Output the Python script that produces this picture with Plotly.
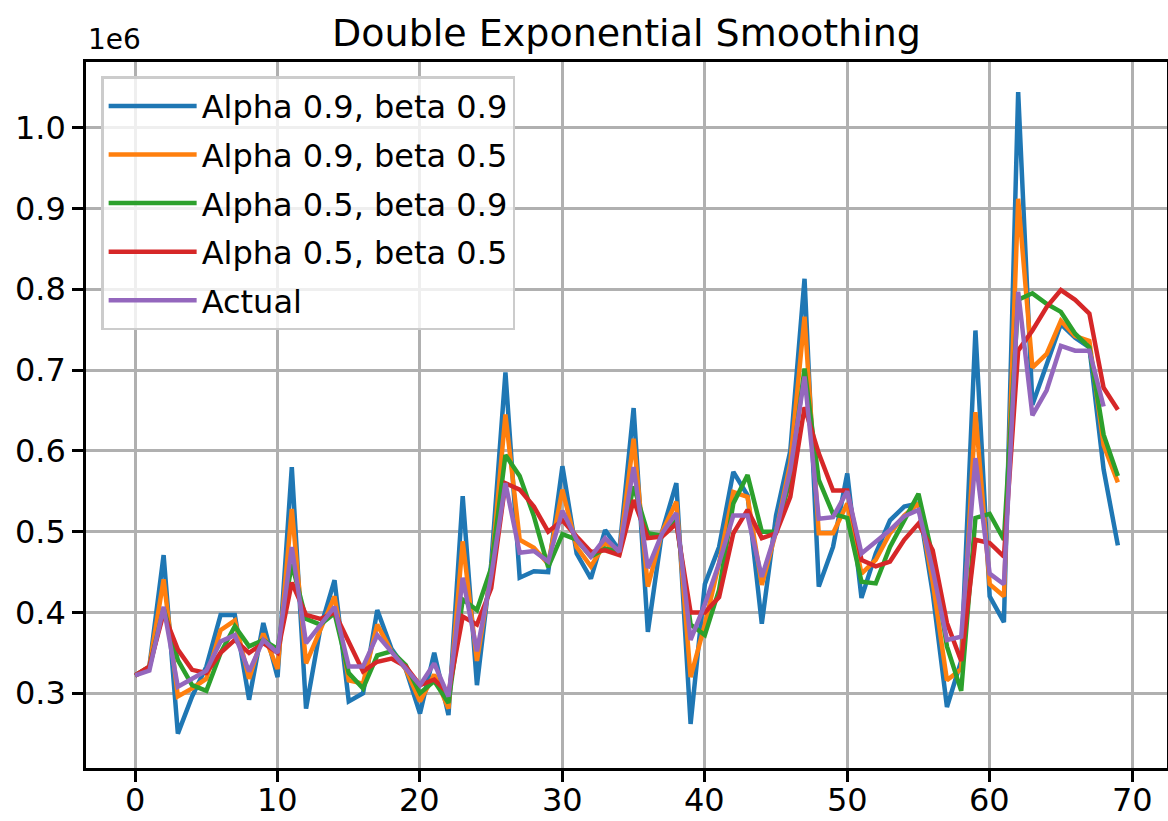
import plotly.graph_objects as go

# values in millions (axis offset 1e6)
actual = [0.322, 0.328, 0.407, 0.308, 0.318, 0.328, 0.364, 0.372, 0.327, 0.366,
          0.35, 0.481, 0.362, 0.385, 0.407, 0.333, 0.333, 0.372, 0.352, 0.33,
          0.31, 0.337, 0.296, 0.443, 0.352, 0.445, 0.56, 0.474, 0.476, 0.463,
          0.526, 0.49, 0.469, 0.492, 0.475, 0.58, 0.455, 0.498, 0.523, 0.366,
          0.41, 0.461, 0.52, 0.52, 0.444, 0.50, 0.576, 0.692, 0.516, 0.518,
          0.55, 0.473, 0.488, 0.502, 0.519, 0.527, 0.453, 0.366, 0.37, 0.591,
          0.448, 0.435, 0.797, 0.644, 0.675, 0.73, 0.724, 0.724, 0.655]

a09_b09 = [0.322, 0.333, 0.471, 0.25, 0.296, 0.333, 0.397, 0.397, 0.292, 0.387,
           0.32, 0.58, 0.281, 0.38, 0.44, 0.29, 0.30, 0.403, 0.355, 0.33,
           0.275, 0.35, 0.273, 0.544, 0.31, 0.46, 0.697, 0.443, 0.451, 0.45,
           0.581, 0.473, 0.442, 0.502, 0.477, 0.653, 0.376, 0.50, 0.56, 0.262,
           0.435, 0.481, 0.574, 0.545, 0.386, 0.52, 0.60, 0.813, 0.432, 0.481,
           0.572, 0.418, 0.473, 0.514, 0.531, 0.535, 0.424, 0.283, 0.34, 0.749,
           0.42, 0.388, 1.044, 0.657, 0.707, 0.757, 0.74, 0.728, 0.577, 0.483]

a09_b05 = [0.322, 0.333, 0.441, 0.296, 0.306, 0.318, 0.378, 0.39, 0.318, 0.374,
           0.33, 0.528, 0.337, 0.38, 0.42, 0.316, 0.312, 0.385, 0.352, 0.33,
           0.29, 0.323, 0.281, 0.488, 0.34, 0.45, 0.645, 0.49, 0.48, 0.46,
           0.552, 0.481, 0.457, 0.486, 0.475, 0.615, 0.432, 0.50, 0.537, 0.32,
           0.385, 0.461, 0.549, 0.543, 0.434, 0.50, 0.585, 0.766, 0.498, 0.498,
           0.535, 0.448, 0.465, 0.498, 0.52, 0.535, 0.438, 0.316, 0.33, 0.648,
           0.435, 0.42, 0.912, 0.703, 0.72, 0.761, 0.742, 0.736, 0.607, 0.561]

a05_b09 = [0.322, 0.332, 0.405, 0.341, 0.31, 0.303, 0.35, 0.383, 0.358, 0.366,
           0.355, 0.46, 0.392, 0.385, 0.399, 0.325, 0.306, 0.347, 0.352, 0.335,
           0.30, 0.315, 0.288, 0.416, 0.403, 0.455, 0.595, 0.569, 0.519, 0.456,
           0.497, 0.49, 0.469, 0.479, 0.475, 0.556, 0.498, 0.495, 0.514, 0.385,
           0.372, 0.428, 0.535, 0.57, 0.50, 0.50, 0.565, 0.702, 0.564, 0.522,
           0.517, 0.438, 0.436, 0.481, 0.514, 0.547, 0.469, 0.358, 0.303, 0.517,
           0.522, 0.49, 0.787, 0.795, 0.782, 0.772, 0.745, 0.728, 0.62, 0.569]

a05_b05 = [0.322, 0.333, 0.399, 0.354, 0.329, 0.325, 0.35, 0.366, 0.35, 0.362,
           0.35, 0.437, 0.397, 0.392, 0.40, 0.362, 0.327, 0.339, 0.343, 0.333,
           0.31, 0.317, 0.30, 0.395, 0.385, 0.43, 0.56, 0.552, 0.531, 0.50,
           0.514, 0.494, 0.475, 0.477, 0.471, 0.539, 0.492, 0.494, 0.51, 0.40,
           0.40, 0.419, 0.498, 0.527, 0.492, 0.498, 0.543, 0.654, 0.597, 0.551,
           0.551, 0.465, 0.457, 0.463, 0.49, 0.51, 0.477, 0.387, 0.34, 0.49,
           0.486, 0.469, 0.724, 0.749, 0.778, 0.799, 0.787, 0.77, 0.678, 0.651]

SCALE = 1e6
names = ["Alpha 0.9, beta 0.9", "Alpha 0.9, beta 0.5",
         "Alpha 0.5, beta 0.9", "Alpha 0.5, beta 0.5", "Actual"]
series = [a09_b09, a09_b05, a05_b09, a05_b05, actual]
colors = ["#1f77b4", "#ff7f0e", "#2ca02c", "#d62728", "#9467bd"]

x_ticks = [0, 10, 20, 30, 40, 50, 60, 70]
y_ticks = [0.3, 0.4, 0.5, 0.6, 0.7, 0.8, 0.9, 1.0]
y_tick_labels = ["0.3", "0.4", "0.5", "0.6", "0.7", "0.8", "0.9", "1.0"]

FONT = "DejaVu Sans"

fig = go.Figure()
for name, vals, col in zip(names, series, colors):
    fig.add_trace(go.Scatter(
        x=list(range(len(vals))), y=[v * SCALE for v in vals],
        mode="lines", name=name, legendgroup=name,
        line=dict(color=col, width=4.5)))

axis_common = dict(showline=True, linecolor="black", linewidth=2.5, mirror=True,
                   showgrid=True, gridcolor="#b0b0b0", gridwidth=2.5,
                   ticks="outside", ticklen=11, tickwidth=2.5, tickcolor="black",
                   zeroline=False, automargin=False,
                   tickfont=dict(family=FONT, size=32, color="black"))

# x tick labels placed as annotations at the tick positions (closer to the axis)
x_label_annotations = [
    dict(text=str(v), x=v, xref="x", y=0, yref="paper", xanchor="center",
         yanchor="middle", yshift=-32, showarrow=False,
         font=dict(family=FONT, size=32, color="black"))
    for v in x_ticks
]

fig.update_layout(
    width=1168, height=821,
    paper_bgcolor="white", plot_bgcolor="white",
    margin=dict(l=86, r=1, t=62, b=53, autoexpand=False),
    title=dict(text="Double Exponential Smoothing", x=0.5, xref="paper",
               y=1 - 33 / 821, yref="container", yanchor="middle", xanchor="center",
               font=dict(family=FONT, size=38, color="black")),
    xaxis=dict(range=[-3.45, 72.45], tickvals=x_ticks, showticklabels=False,
               **axis_common),
    yaxis=dict(range=[0.2075 * SCALE, 1.0813 * SCALE],
               tickvals=[v * SCALE for v in y_ticks], ticktext=y_tick_labels,
               **axis_common),
    showlegend=True,
    legend=dict(x=0.014, y=0.98, xanchor="left", yanchor="top",
                bgcolor="rgba(255,255,255,0.8)", bordercolor="#cccccc", borderwidth=2.5,
                font=dict(family=FONT, size=32, color="black"),
                itemwidth=88, tracegroupgap=4, traceorder="grouped"),
    annotations=[dict(text="1e6", xref="paper", yref="paper", x=0, y=1,
                      xanchor="left", yanchor="bottom", yshift=4, showarrow=False,
                      font=dict(family=FONT, size=28, color="black"))]
                + x_label_annotations,
)

fig.write_html(
    "out.html",
    config={"displayModeBar": False},
    post_script="document.body.style.margin='0';"
                "document.documentElement.style.overflow='hidden';",
)
